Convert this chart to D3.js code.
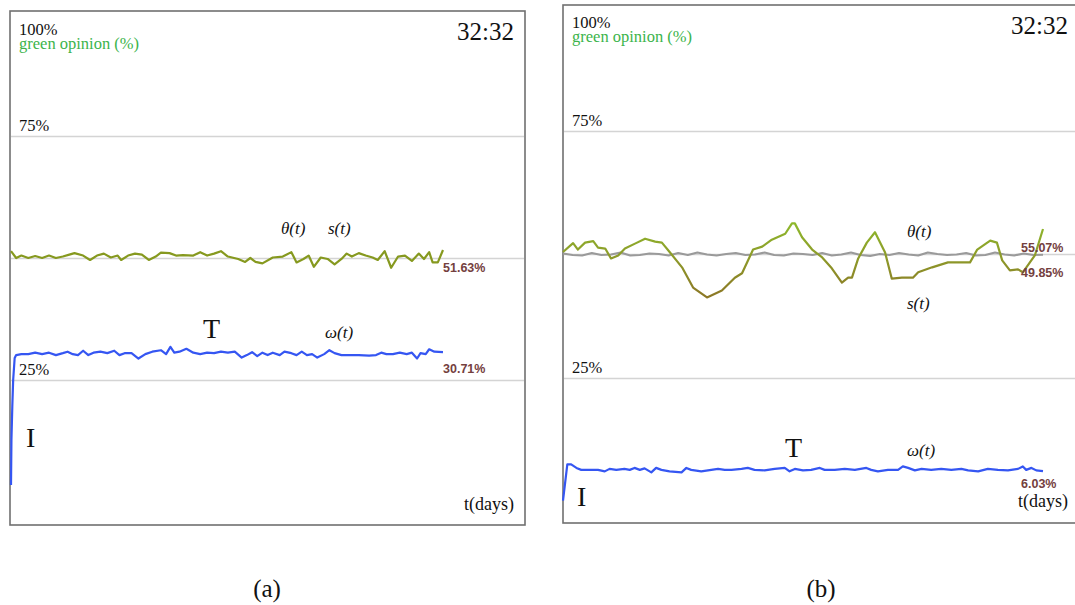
<!DOCTYPE html>
<html><head><meta charset="utf-8">
<script src="https://cdn.jsdelivr.net/npm/d3@7"></script>
<style>
body{margin:0;background:#fff;}
svg{display:block;}
</style></head>
<body>
<svg id="chart" width="1075" height="605"></svg>
<script>
// ---------- DATA ----------
const gridValues = [25, 50, 75];
const tickLabels = ["100%", "75%", "25%"];
const tickLabelValues = [100, 75, 25];

// Panel (a): s(t) green opinion
const tA_green = [0,1.2,2.4,4.0,5.6,7.2,8.8,10.4,12.0,13.5,14.7,16.7,18.3,19.9,21.5,23.1,24.7,25.5,27.1,28.7,30.3,31.9,33.5,34.7,36.7,38.2,39.8,42.2,43.8,45.4,47.0,48.6,50.2,52.6,54.2,55.4,56.6,58.2,60.6,62.9,64.9,66.1,67.7,68.9,70.1,71.7,73.3,74.9,76.5,77.7,78.9,80.5,82.1,83.7,84.9,86.5,88.0,89.6,91.2,92.8,94.4,95.6,96.8,97.6,98.8,100];
const vA_green = [51.4,50.0,50.5,50.0,50.4,50.0,50.5,50.0,50.3,50.7,51.0,50.5,49.6,50.5,50.9,50.1,50.5,49.6,50.5,50.9,50.7,49.6,50.3,51.1,51.0,50.5,50.6,50.5,51.2,50.5,50.9,51.4,50.3,49.8,49.2,50.0,49.2,48.9,50.1,50.3,51.2,49.1,49.8,50.5,48.2,50.1,49.8,48.7,49.8,50.9,50.3,51.0,50.5,50.1,49.6,51.4,48.0,50.3,50.5,49.4,50.9,49.8,51.2,49.1,49.1,51.63];
// Panel (a): omega(t)
const tA_blue = [0,0.1,0.3,0.5,0.85,1.2,2.4,4.0,5.6,7.2,8.8,10.4,12.0,13.1,14.3,15.5,16.7,17.9,19.1,20.7,22.3,23.9,25.1,26.3,27.9,29.5,31.1,32.7,34.7,35.9,36.9,37.8,39.0,40.6,42.2,43.8,45.4,47.0,48.6,50.2,51.8,53.4,54.6,55.8,57.0,58.2,59.4,60.6,62.2,63.3,64.9,66.1,67.3,68.5,69.7,70.9,72.5,73.7,74.9,76.5,78.1,80.5,82.9,84.5,85.7,86.9,88.4,90.0,91.6,92.8,94.0,94.8,96.0,96.8,98.0,100];
const vA_blue = [3.5,12.7,19.5,25.0,29.5,30.1,30.3,30.3,30.6,30.3,30.6,30.1,30.5,30.8,30.3,30.1,31.0,30.1,30.6,30.8,30.5,31.0,30.1,30.5,30.5,29.4,30.3,30.8,31.1,30.3,31.8,30.6,30.8,31.4,30.6,30.3,30.6,30.5,30.8,30.6,30.8,29.6,30.1,30.7,29.9,30.6,30.1,30.6,30.1,30.8,30.5,30.1,30.8,30.1,30.3,29.6,30.3,31.1,30.5,30.1,30.1,30.1,30.0,30.1,30.6,30.3,30.3,30.6,30.3,30.6,29.4,30.5,30.3,31.3,30.8,30.71];

// Panel (b): s(t)
const tB_green = [0,2.1,3.1,4.6,6.3,7.3,8.8,10.0,11.5,12.9,15.0,17.1,19.2,20.6,22.3,24.8,27.1,30.0,33.1,35.8,37.3,39.6,41.5,43.5,46.3,47.7,48.3,49.8,51.9,54.0,56.0,58.1,59.4,60.2,61.5,63.3,65.0,67.1,68.5,70.6,72.9,74.0,76.9,80.2,82.3,84.8,86.3,89.0,90.4,91.5,93.1,94.8,95.8,98.3,100];
const vB_green = [50.4,52.2,50.9,52.3,52.6,51.3,51.1,49.1,49.7,51.1,52.1,53.1,52.5,52.3,50.3,47.3,43.2,41.2,42.6,45.2,46.1,50.9,51.5,52.9,54.1,56.2,56.2,53.4,50.9,49.3,47.1,44.2,45.2,45.2,49.1,52.3,54.4,50.3,45.0,45.2,45.2,46.3,47.3,48.3,48.3,48.3,50.9,52.7,52.3,48.7,46.7,46.9,46.3,49.7,55.07];
// Panel (b): theta(t), sampled every 2 days
const tB_gray = [0,2,4,6,8,10,12,14,16,18,20,22,24,26,28,30,32,34,36,38,40,42,44,46,48,50,52,54,56,58,60,62,64,66,68,70,72,74,76,78,80,82,84,86,88,90,92,94,96,98,100];
const vB_gray = [50.1,49.8,49.7,50.2,49.8,49.9,50.3,49.7,49.8,50.1,50.0,49.7,50.2,49.8,50.3,49.9,49.7,50.0,50.2,49.8,49.9,50.3,49.8,49.7,50.1,50.0,49.8,50.2,49.7,49.9,50.3,49.8,49.6,50.0,49.8,50.2,49.9,49.7,50.3,50.0,49.8,49.9,50.2,49.7,49.8,50.3,49.9,49.7,50.1,49.8,49.85];
// Panel (b): omega(t)
const tB_blue = [0,0.9,1.7,2.8,3.8,5.2,7.3,8.7,9.7,11.1,12.8,13.9,14.9,16.0,17.0,18.4,19.4,20.5,22.2,24.7,25.7,26.7,28.8,30.9,32.3,33.7,35.1,37.2,38.5,39.9,42.0,44.1,46.2,47.2,48.3,50.0,51.7,53.5,54.5,56.6,58.7,60.8,63.2,64.2,65.6,67.7,69.8,70.8,71.9,73.3,74.7,76.7,78.8,80.9,83.0,84.4,86.5,88.5,90.6,92.7,94.8,95.8,96.5,97.6,98.6,100];
const vB_blue = [0.1,7.4,7.4,6.7,6.3,6.3,6.3,6.0,6.5,6.3,6.5,6.3,6.7,6.3,6.6,5.8,6.7,6.3,6.0,5.8,6.7,6.3,6.0,6.3,6.5,6.3,6.3,6.5,6.7,6.3,6.2,6.5,6.7,6.0,6.5,6.2,6.3,6.7,6.3,6.3,6.5,6.3,6.7,6.3,6.0,6.3,6.3,7.0,6.7,6.2,6.5,6.3,6.5,6.3,6.5,6.2,6.0,6.5,6.3,6.2,6.5,7.0,6.3,6.7,6.2,6.03];

const clockText = "32:32";
const yTitle = "green opinion (%)";
const xTitle = "t(days)";
const captions = ["(a)", "(b)"];

// ---------- DRAW ----------
const svg = d3.select("#chart");
const serif = "'Liberation Serif','Times New Roman',serif";
const sans = "'Liberation Sans',Arial,sans-serif";

function panel(cfg) {
  const g = svg.append("g");
  const x = d3.scaleLinear().domain([0, 100]).range(cfg.xr);
  const y = d3.scaleLinear().domain([0, 100]).range(cfg.yr);
  const f = cfg.frame;

  // frame
  g.append("rect").attr("x", f.x).attr("y", f.y).attr("width", f.w).attr("height", f.h)
    .attr("fill", "#fff").attr("stroke", "#707070").attr("stroke-width", 1.6);

  // grid lines
  g.selectAll("line.grid").data(gridValues).join("line").attr("class", "grid")
    .attr("x1", f.x + 1).attr("x2", f.x + f.w - 1)
    .attr("y1", d => Math.round(y(d)) + 0.5).attr("y2", d => Math.round(y(d)) + 0.5)
    .attr("stroke", "#d4d4d4").attr("stroke-width", 1.4);

  // tick labels
  g.selectAll("text.tick").data(tickLabelValues).join("text").attr("class", "tick")
    .attr("x", f.x + 9)
    .attr("y", d => d === 100 ? y(d) + 21 : y(d) - 5)
    .attr("font-family", serif).attr("font-size", 16.5).attr("fill", "#111")
    .text((d, i) => tickLabels[i]);

  g.append("text").attr("x", f.x + 9).attr("y", y(100) + 35)
    .attr("font-family", serif).attr("font-size", 16.5).attr("fill", "#3cb44b").text(yTitle);

  g.append("text").attr("x", cfg.clockX).attr("y", f.y + 29).attr("text-anchor", "end")
    .attr("font-family", serif).attr("font-size", 25).attr("fill", "#111").text(clockText);

  g.append("text").attr("x", cfg.clockX).attr("y", cfg.xTitleY).attr("text-anchor", "end")
    .attr("font-family", serif).attr("font-size", 18).attr("fill", "#111").text(xTitle);

  const line = d3.line().x(d => x(d[0])).y(d => y(d[1]));
  cfg.series.forEach(s => {
    g.append("path").datum(d3.zip(s.t, s.v)).attr("d", line)
      .attr("fill", "none").attr("stroke", s.color).attr("stroke-width", 2.2)
      .attr("stroke-linejoin", "round");
  });
  cfg.series.forEach(s => {
    const last = s.v[s.v.length - 1];
    g.append("text").attr("x", x(100) + cfg.labelDx).attr("y", y(last) + s.labelDy)
      .attr("font-family", sans).attr("font-weight", "bold").attr("font-size", 12.5)
      .attr("fill", "#74403e").text(last.toFixed(2) + "%");
  });

  // annotations
  cfg.notes.forEach(n => {
    g.append("text").attr("x", n.x).attr("y", n.y)
      .attr("font-family", serif).attr("font-size", n.size)
      .attr("font-style", n.italic ? "italic" : "normal").attr("fill", "#111").text(n.text);
  });

  svg.append("text").attr("x", cfg.captionX).attr("y", 597).attr("text-anchor", "middle")
    .attr("font-family", serif).attr("font-size", 25).attr("fill", "#111").text(cfg.caption);
  return {x, y};
}

// gradient for panel b green
const defs = svg.append("defs");
const grad = defs.append("linearGradient").attr("id", "gB").attr("gradientUnits", "userSpaceOnUse")
  .attr("x1", 0).attr("x2", 0).attr("y1", 220).attr("y2", 300);
grad.append("stop").attr("offset", "0%").attr("stop-color", "#8ebb2c");
grad.append("stop").attr("offset", "100%").attr("stop-color", "#8c7526");

panel({
  frame: {x: 10, y: 11, w: 515, h: 514},
  xr: [11, 443], yr: [502, 14],
  clockX: 514, xTitleY: 510, labelDx: 0,
  caption: captions[0], captionX: 267,
  series: [
    {t: tA_green, v: vA_green, color: "#86991f", labelDy: 22},
    {t: tA_blue, v: vA_blue, color: "#3556f2", labelDy: 21}
  ],
  notes: [
    {text: "θ(t)", x: 281, y: 234, size: 17, italic: true},
    {text: "s(t)", x: 328, y: 234, size: 17, italic: true},
    {text: "ω(t)", x: 325, y: 338, size: 17, italic: true},
    {text: "T", x: 203, y: 338, size: 28},
    {text: "I", x: 26, y: 447, size: 28}
  ]
});

panel({
  frame: {x: 563, y: 5, w: 530, h: 518},
  xr: [563, 1043], yr: [501, 7],
  clockX: 1068, xTitleY: 507, labelDx: -22,
  caption: captions[1], captionX: 821,
  series: [
    {t: tB_gray, v: vB_gray, color: "#9a9a9a", labelDy: 22},
    {t: tB_green, v: vB_green, color: "url(#gB)", labelDy: 23},
    {t: tB_blue, v: vB_blue, color: "#3556f2", labelDy: 17}
  ],
  notes: [
    {text: "θ(t)", x: 907, y: 237, size: 17, italic: true},
    {text: "s(t)", x: 907, y: 309, size: 17, italic: true},
    {text: "ω(t)", x: 907, y: 456, size: 17, italic: true},
    {text: "T", x: 785, y: 457, size: 28},
    {text: "I", x: 577, y: 506, size: 28}
  ]
});
</script>
</body></html>
